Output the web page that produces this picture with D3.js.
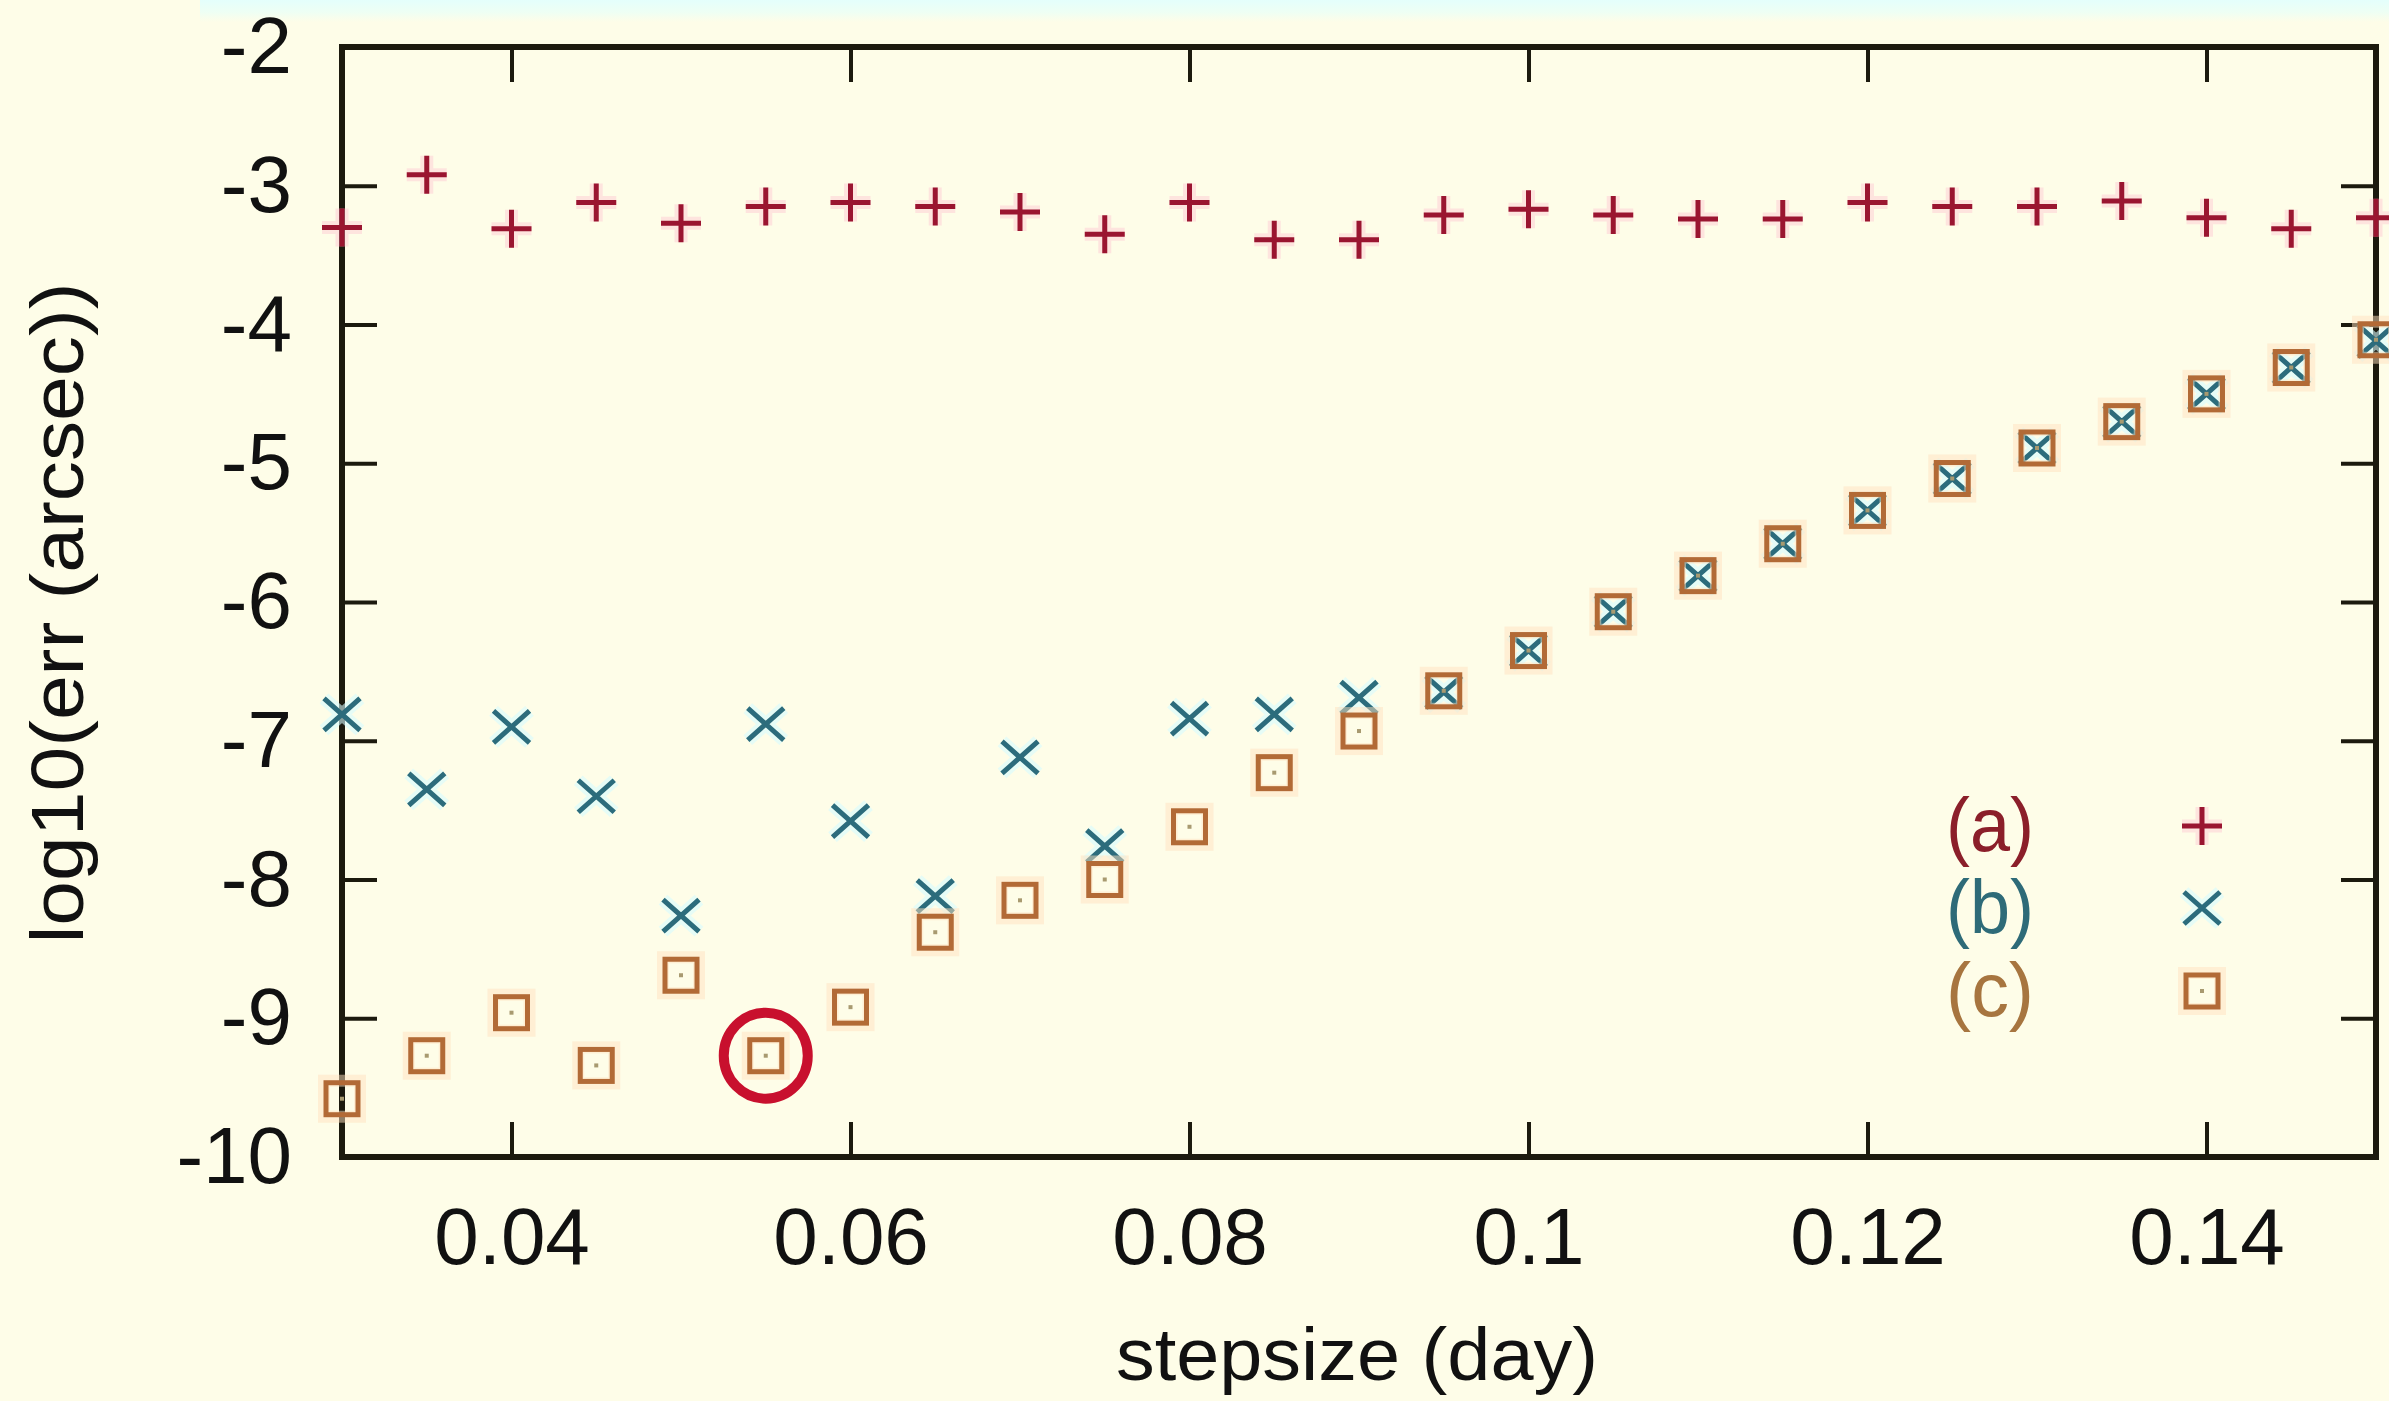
<!DOCTYPE html>
<html>
<head>
<meta charset="utf-8">
<script src="https://cdn.jsdelivr.net/npm/d3@7"></script>
<style>
  html, body { margin: 0; padding: 0; background: #FEFDE8; }
  svg { display: block; }
</style>
</head>
<body>
<script>
// ---------- data ----------
const stepsizes = [0.030, 0.035, 0.040, 0.045, 0.050, 0.055, 0.060, 0.065, 0.070, 0.075,
                   0.080, 0.085, 0.090, 0.095, 0.100, 0.105, 0.110, 0.115, 0.120, 0.125,
                   0.130, 0.135, 0.140, 0.145, 0.150];
const seriesA = [-3.30, -2.92, -3.31, -3.12, -3.27, -3.15, -3.12, -3.15, -3.19, -3.35,
                 -3.12, -3.39, -3.39, -3.21, -3.17, -3.21, -3.24, -3.24, -3.12, -3.15,
                 -3.15, -3.11, -3.23, -3.31, -3.23];
const seriesB = [-6.81, -7.35, -6.90, -7.40, -8.26, -6.88, -7.58, -8.12, -7.12, -7.76,
                 -6.84, -6.81, -6.69, -6.65, -6.35, -6.07, -5.81, -5.58, -5.34, -5.11,
                 -4.89, -4.70, -4.50, -4.31, -4.12];
const seriesC = [-9.58, -9.27, -8.96, -9.34, -8.69, -9.27, -8.92, -8.38, -8.15, -8.00,
                 -7.62, -7.23, -6.93, -6.64, -6.35, -6.07, -5.81, -5.58, -5.34, -5.11,
                 -4.89, -4.70, -4.50, -4.31, -4.11];
const seriesNames = ["(a)", "(b)", "(c)"];
const xTicks = [0.04, 0.06, 0.08, 0.10, 0.12, 0.14];
const xTickLabels = ["0.04", "0.06", "0.08", "0.1", "0.12", "0.14"];
const yTicks = [-2, -3, -4, -5, -6, -7, -8, -9, -10];
const yTickLabels = ["-2", "-3", "-4", "-5", "-6", "-7", "-8", "-9", "-10"];
const highlightStep = 0.055;   // circled point of series (c)
const xLabel = "stepsize (day)";
const yLabel = "log10(err (arcsec))";

// ---------- layout ----------
const W = 2389, H = 1401;
const L = 342, R = 2376, T = 47, B = 1157;
const FONT = "'Liberation Sans', Arial, Helvetica, sans-serif";

const svg = d3.select("body").append("svg").attr("width", W).attr("height", H);

// background + faint cyan strip at the top
const defs = svg.append("defs");
const g1 = defs.append("linearGradient").attr("id", "topfade").attr("x1", 0).attr("x2", 0).attr("y1", 0).attr("y2", 1);
g1.append("stop").attr("offset", "0%").attr("stop-color", "#E4FFFC");
g1.append("stop").attr("offset", "55%").attr("stop-color", "#EEFFF4");
g1.append("stop").attr("offset", "100%").attr("stop-color", "#FEFDE8");
svg.append("rect").attr("width", W).attr("height", H).attr("fill", "#FEFDE8");
svg.append("rect").attr("x", 200).attr("y", 0).attr("width", W - 200).attr("height", 22).attr("fill", "url(#topfade)");

const x = d3.scaleLinear().domain([0.03, 0.15]).range([L, R]);
const y = d3.scaleLinear().domain([-10, -2]).range([B, T]);

// ---------- axes (ticks inward on all four sides) ----------
const TICK = 35;
const axStroke = "#1C1A0E";

function styleAxis(g, withText) {
  g.select(".domain").remove();
  g.selectAll(".tick line").attr("stroke", axStroke).attr("stroke-width", 4);
  if (withText) {
    g.selectAll(".tick text").attr("fill", "#111").attr("font-family", FONT).attr("font-size", 80);
  } else {
    g.selectAll(".tick text").remove();
  }
}

svg.append("g").attr("transform", `translate(0,${B})`)
  .call(d3.axisBottom(x).tickValues(xTicks).tickSize(-TICK).tickPadding(50)
        .tickFormat((d, i) => xTickLabels[i]))
  .call(g => styleAxis(g, true));
svg.append("g").attr("transform", `translate(0,${T})`)
  .call(d3.axisTop(x).tickValues(xTicks).tickSize(-TICK))
  .call(g => styleAxis(g, false));
svg.append("g").attr("transform", `translate(${L},0)`)
  .call(d3.axisLeft(y).tickValues(yTicks).tickSize(-TICK).tickPadding(50)
        .tickFormat((d, i) => yTickLabels[i]))
  .call(g => styleAxis(g, true));
svg.append("g").attr("transform", `translate(${R},0)`)
  .call(d3.axisRight(y).tickValues(yTicks).tickSize(-TICK))
  .call(g => styleAxis(g, false));

// frame
svg.append("rect").attr("x", L).attr("y", T).attr("width", R - L).attr("height", B - T)
  .attr("fill", "none").attr("stroke", axStroke).attr("stroke-width", 6);

// axis titles
svg.append("text").attr("x", 1357).attr("y", 1380)
  .attr("text-anchor", "middle").attr("font-family", FONT).attr("font-size", 74)
  .attr("fill", "#111").attr("textLength", 482).attr("lengthAdjust", "spacingAndGlyphs")
  .text(xLabel);
svg.append("text").attr("transform", `translate(83,${613}) rotate(-90)`)
  .attr("text-anchor", "middle").attr("font-family", FONT).attr("font-size", 74)
  .attr("fill", "#111").attr("textLength", 661).attr("lengthAdjust", "spacingAndGlyphs")
  .text(yLabel);

// ---------- markers ----------
const colA = "#9A1530", colB = "#2C6C7C", colC = "#B26A36";
const plusPath = "M-20,0H20M0,-19V19";
const crossPath = "M-18,-16L18,16M-18,16L18,-16";

function drawPlus(g, px, py) {
  g.append("path").attr("d", plusPath).attr("transform", `translate(${px},${py})`)
    .attr("stroke", "#FFC6D2").attr("stroke-width", 13).attr("opacity", 0.45).attr("fill", "none");
  g.append("path").attr("d", plusPath).attr("transform", `translate(${px},${py})`)
    .attr("stroke", colA).attr("stroke-width", 5).attr("fill", "none");
}
function drawCross(g, px, py) {
  g.append("path").attr("d", crossPath).attr("transform", `translate(${px},${py})`)
    .attr("stroke", "#D6FBFF").attr("stroke-width", 13).attr("opacity", 0.6).attr("fill", "none");
  g.append("path").attr("d", crossPath).attr("transform", `translate(${px},${py})`)
    .attr("stroke", colB).attr("stroke-width", 5).attr("fill", "none");
}
function drawSquare(g, px, py) {
  g.append("rect").attr("x", px - 18).attr("y", py - 18).attr("width", 36).attr("height", 36)
    .attr("fill", "none").attr("stroke", "#FFE2C0").attr("stroke-width", 12).attr("opacity", 0.5);
  g.append("rect").attr("x", px - 16).attr("y", py - 16).attr("width", 32).attr("height", 32)
    .attr("fill", "none").attr("stroke", colC).attr("stroke-width", 5);
  g.append("rect").attr("x", px - 2).attr("y", py - 2).attr("width", 4).attr("height", 4)
    .attr("fill", "#A89A70");
}

const gA = svg.append("g"), gB = svg.append("g"), gC = svg.append("g");
stepsizes.forEach((s, i) => {
  drawPlus(gA, x(s), y(seriesA[i]));
});
stepsizes.forEach((s, i) => {
  drawCross(gB, x(s), y(seriesB[i]));
});
stepsizes.forEach((s, i) => {
  drawSquare(gC, x(s), y(seriesC[i]));
});

// highlight circle around the (c) point at 0.055
const hi = stepsizes.indexOf(highlightStep);
svg.append("ellipse").attr("cx", x(stepsizes[hi])).attr("cy", y(seriesC[hi]))
  .attr("rx", 42).attr("ry", 43).attr("fill", "none")
  .attr("stroke", "#C8102E").attr("stroke-width", 10);

// ---------- legend ----------
const legColors = ["#8B1F2A", "#2E6B78", "#A7753F"];
const legY = [826, 908, 991];
const legText = svg.append("g");
seriesNames.forEach((n, i) => {
  legText.append("text").attr("x", 1990).attr("y", legY[i]).attr("dy", "0.33em")
    .attr("text-anchor", "middle").attr("font-family", FONT).attr("font-size", 76)
    .attr("fill", legColors[i]).attr("textLength", 88).attr("lengthAdjust", "spacingAndGlyphs")
    .text(n);
});
drawPlus(legText, 2202, legY[0]);
drawCross(legText, 2202, legY[1]);
drawSquare(legText, 2202, legY[2]);
</script>
</body>
</html>
